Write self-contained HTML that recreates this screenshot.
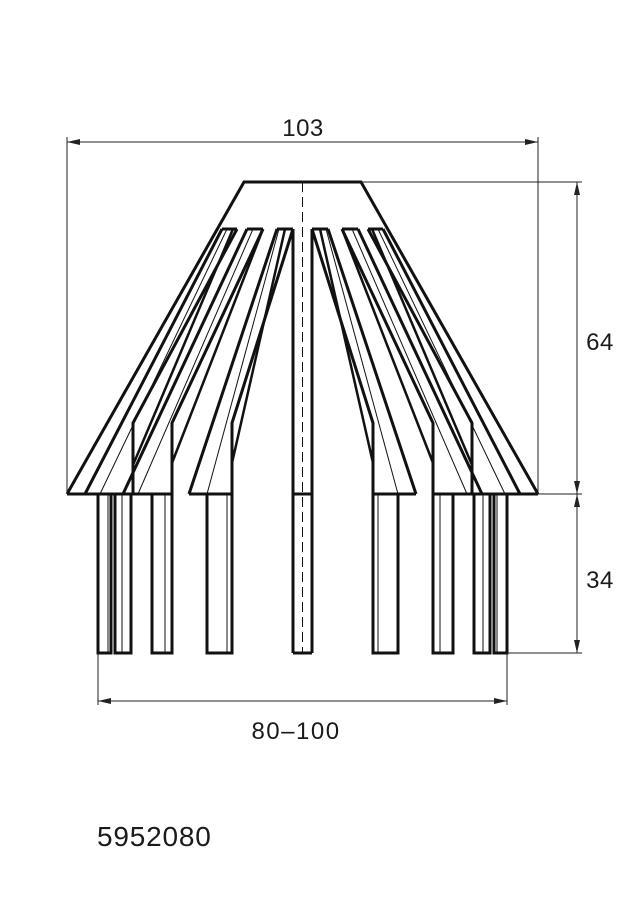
<!DOCTYPE html>
<html><head><meta charset="utf-8"><style>
html,body{margin:0;padding:0;background:#fff;}
svg{display:block;}
text{font-family:"Liberation Sans","DejaVu Sans",sans-serif;fill:#1a1a1a;}
</style></head><body>
<svg width="636" height="903" viewBox="0 0 636 903" xmlns="http://www.w3.org/2000/svg">
<defs>
<g id="half" fill="none" stroke="#111" stroke-linejoin="miter">
  <path d="M302,182 H361 L538,494" stroke-width="3"/>
  <path d="M312,229 V653" stroke-width="3"/>
  <path d="M312,229 H328" stroke-width="3"/>
  <path d="M312,229 L373,423 V494" stroke-width="3"/>
  <path d="M320,229 L373,463" stroke-width="2.5"/>
  <path d="M328,229 L416,494" stroke-width="3"/>
  <path d="M326,229 L398,494" stroke-width="1"/>
  <path d="M373,494 H416" stroke-width="3"/>
  <path d="M342,229 H358" stroke-width="3"/>
  <path d="M342,229 L433,423 V494" stroke-width="3"/>
  <path d="M342,229 L433,463" stroke-width="2.5"/>
  <path d="M358,229 L482,494" stroke-width="3"/>
  <path d="M352,229 L467,494" stroke-width="1"/>
  <path d="M368,229 H383" stroke-width="3"/>
  <path d="M368,229 L472,423 V494" stroke-width="3"/>
  <path d="M372,229 L472,465" stroke-width="2.5"/>
  <path d="M383,229 L520,494" stroke-width="3"/>
  <path d="M378,229 L505,494" stroke-width="1"/>
  <path d="M433,494 H538" stroke-width="3"/>
  <path d="M373,494 V653 H398 V494" stroke-width="3"/>
  <path d="M378,494 V653" stroke-width="1"/>
  <path d="M433,494 V653 H453 V494" stroke-width="3"/>
  <path d="M440,494 V653" stroke-width="1"/>
  <path d="M474,494 V653 H490 V494" stroke-width="3"/>
  <path d="M483,494 V653" stroke-width="1"/>
  <path d="M494,494 V653 H507 V494" stroke-width="3"/>
  <path d="M497,494 V653" stroke-width="1"/>
  <path d="M302,494 H312 M302,653 H312" stroke-width="3"/>
</g>
</defs>
<use href="#half"/>
<use href="#half" transform="translate(605,0) scale(-1,1)"/>
<line x1="302.5" y1="182" x2="302.5" y2="653" stroke="#111" stroke-width="1" stroke-dasharray="10,5"/>
<g stroke="#222" stroke-width="1" fill="none">
  <line x1="67" y1="137" x2="67" y2="494"/>
  <line x1="538" y1="137" x2="538" y2="494"/>
  <line x1="67" y1="142" x2="538" y2="142"/>
  <line x1="361" y1="182" x2="582" y2="182"/>
  <line x1="538" y1="494" x2="582" y2="494"/>
  <line x1="507" y1="653" x2="582" y2="653"/>
  <line x1="577" y1="182" x2="577" y2="653"/>
  <line x1="98" y1="653" x2="98" y2="705"/>
  <line x1="507" y1="653" x2="507" y2="705"/>
  <line x1="98" y1="701" x2="507" y2="701"/>
</g>
<g fill="#222">
  <path d="M67,142 l13,-3 v6 z"/><path d="M538,142 l-13,-3 v6 z"/>
  <path d="M577,182 l-3,13 h6 z"/><path d="M577,494 l-3,-13 h6 z"/>
  <path d="M577,494 l-3,13 h6 z"/><path d="M577,653 l-3,-13 h6 z"/>
  <path d="M98,701 l13,-3 v6 z"/><path d="M507,701 l-13,-3 v6 z"/>
</g>
<text x="303" y="136" font-size="24" letter-spacing="0.5" text-anchor="middle">103</text>
<text x="600" y="350" font-size="24" letter-spacing="0.5" text-anchor="middle">64</text>
<text x="600" y="588" font-size="24" letter-spacing="0.5" text-anchor="middle">34</text>
<text x="296" y="739" font-size="24" letter-spacing="1.5" text-anchor="middle">80–100</text>
<text x="97" y="846" font-size="28" letter-spacing="0.8">5952080</text>
</svg>
</body></html>
